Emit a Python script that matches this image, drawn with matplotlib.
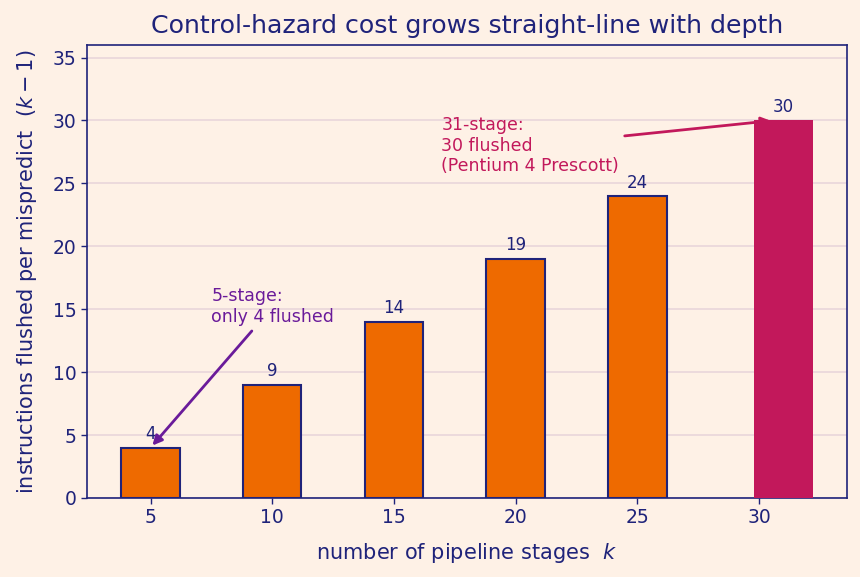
import matplotlib
matplotlib.use("Agg")
import matplotlib.pyplot as plt

# DATA
stages = [5, 10, 15, 20, 25]
flushed = [4, 9, 14, 19, 24]
p4_stage = 31
p4_flushed = 30
yticks = [0, 5, 10, 15, 20, 25, 30, 35]

BG = "#fef1e6"
NAVY = "#1f237a"
ORANGE = "#ee6a00"
CRIMSON = "#c2185b"
PURPLE = "#6a1b9a"
GRID = "#e9d6da"

fig, ax = plt.subplots(figsize=(8.6, 5.77), dpi=100)
fig.patch.set_facecolor(BG)
ax.set_facecolor(BG)

bars = ax.bar(stages, flushed, width=2.4, color=ORANGE, edgecolor=NAVY,
              linewidth=1.5, zorder=3)
p4 = ax.bar([p4_stage], [p4_flushed], width=2.4, color=CRIMSON,
            edgecolor=CRIMSON, linewidth=0, zorder=3)

for x, v in zip(stages + [p4_stage], flushed + [p4_flushed]):
    ax.text(x, v + 0.35, str(v), ha="center", va="bottom", fontsize=12,
            color=NAVY, zorder=5)

ax.set_ylim(0, 36)
ax.set_yticks(yticks)
ax.set_xticks([5, 10, 15, 20, 25, 30])
ax.yaxis.grid(True, color=GRID, linewidth=1.2, zorder=0)
ax.set_axisbelow(True)

for sp in ax.spines.values():
    sp.set_color(NAVY)
    sp.set_linewidth(1.2)
ax.tick_params(colors=NAVY, labelsize=13.5, length=4, width=1)

ax.set_title("Control-hazard cost grows straight-line with depth",
             fontsize=18.2, color=NAVY, pad=9)
ax.set_xlabel("number of pipeline stages  $k$", fontsize=15, color=NAVY,
              labelpad=10)
ax.set_ylabel("instructions flushed per mispredict  $(k-1)$", fontsize=15,
              color=NAVY, labelpad=10)

ax.annotate("5-stage:\nonly 4 flushed", xy=(5, 4), xytext=(7.5, 15.2),
            ha="left", va="center", fontsize=12.5, color=PURPLE,
            arrowprops=dict(arrowstyle="-|>", color=PURPLE, lw=2,
                            mutation_scale=14), zorder=6)
ax.annotate("31-stage:\n30 flushed\n(Pentium 4 Prescott)", xy=(30.6, 30),
            xytext=(16.95, 28.0), ha="left", va="center", fontsize=12.5,
            color=CRIMSON,
            arrowprops=dict(arrowstyle="-|>", color=CRIMSON, lw=2,
                            mutation_scale=14), zorder=2)

fig.subplots_adjust(left=0.101, right=0.985, top=0.922, bottom=0.137)
fig.savefig("out.png", facecolor=BG)
